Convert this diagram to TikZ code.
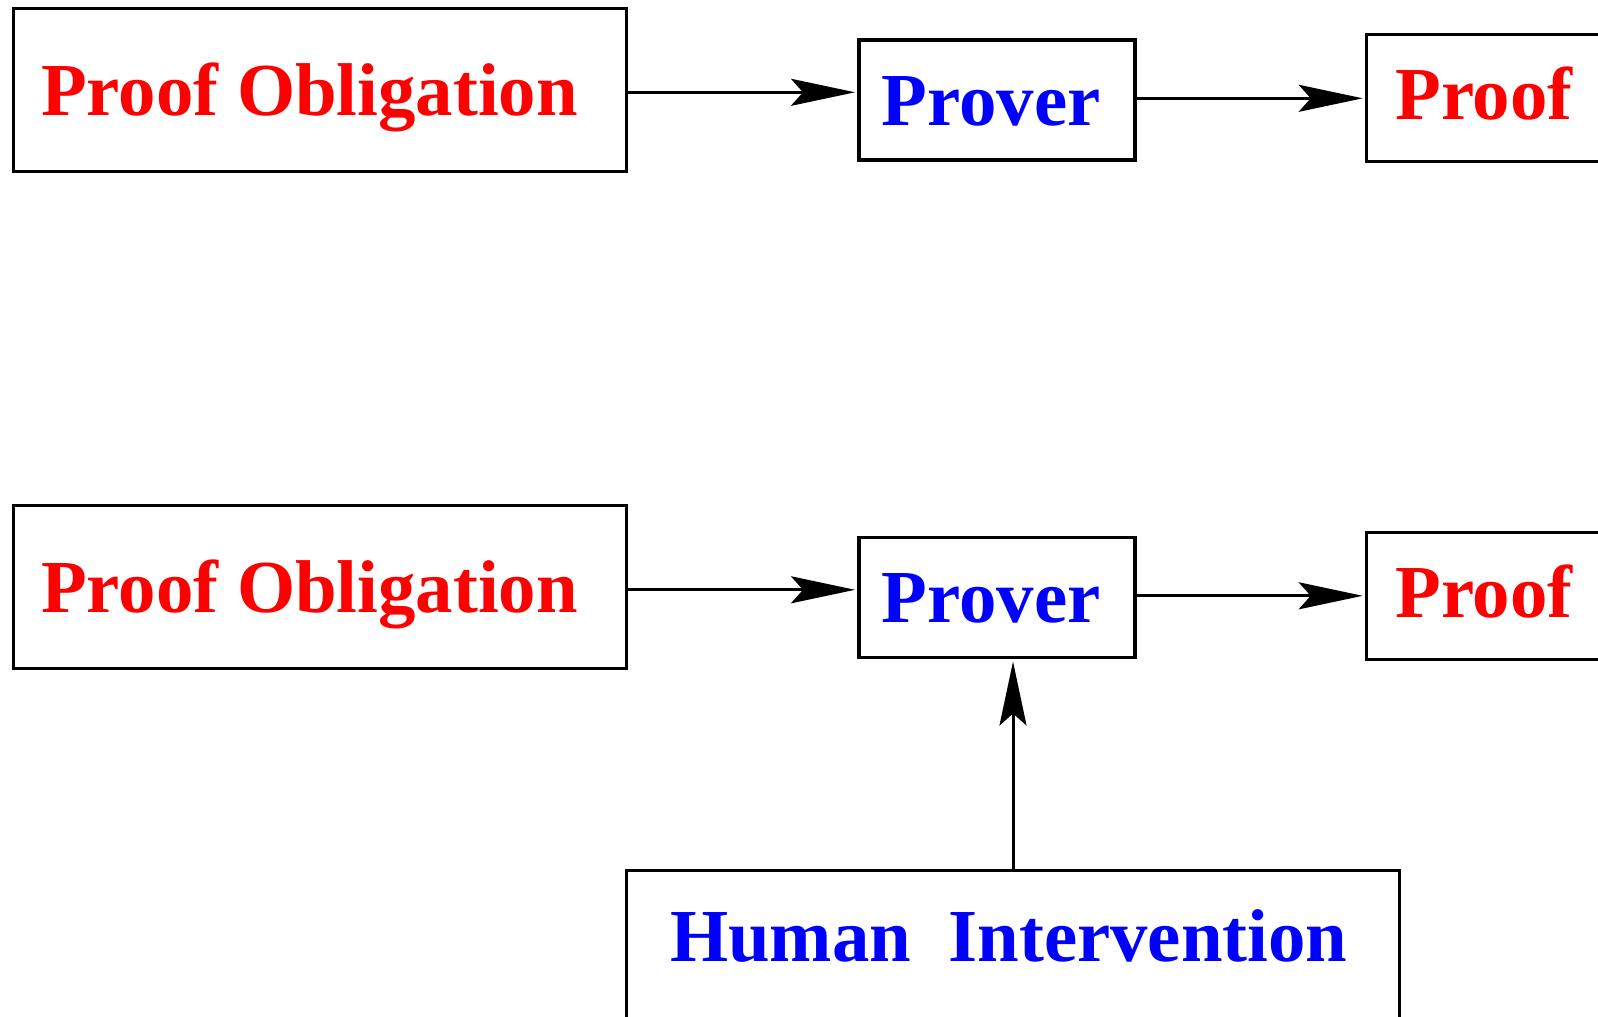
\documentclass[tikz,border=0pt]{standalone}
\usepackage{fontspec}
\setmainfont{Liberation Serif}
\usetikzlibrary{arrows.meta}
\begin{document}
\begin{tikzpicture}[x=0.5pt,y=-0.5pt,
  box/.style={draw=black, line width=1.6pt, rectangle, inner sep=0pt, outer sep=0pt},
  lbl/.style={anchor=base west, inner sep=0pt, font=\fontsize{37.4}{44}\selectfont\bfseries},
  arr/.style={line width=1.5pt, shorten >=2pt,
    -{Stealth[length=32pt, width=13.5pt, inset=6pt]}}]
\useasboundingbox (0,0) rectangle (1598,1016);
\clip (0,0) rectangle (1598,1016);

% automatic prover
\node[box, minimum width=306.8pt, minimum height=81.5pt] (po1) at (320,89.7) {};
\node[box, minimum width=138pt, minimum height=60pt] (pr1) at (997,100) {};
\node[box, minimum width=200pt, minimum height=63.5pt] (pf1) at (1566.7,98.3) {};
\node[lbl, text=red] (t-po1) at (40.8,115.2) {Proof Obligation};
\node[lbl, text=blue] (t-pr1) at (881.5,125.4) {Prover};
\node[lbl, text=red] (t-pf1) at (1395,119.5) {Proof};
\draw[arr] ([yshift=-1.3pt]po1.east) -- ([yshift=-1.3pt]po1.east -| pr1.west);
\draw[arr] (pr1.east |- pf1.west) -- (pf1.west);

% interactive prover
\node[box, minimum width=306.8pt, minimum height=81.5pt] (po2) at (320,587.2) {};
\node[box, minimum width=138pt, minimum height=60pt] (pr2) at (997,597.5) {};
\node[box, minimum width=200pt, minimum height=63.5pt] (pf2) at (1566.7,595.8) {};
\node[lbl, text=red] (t-po2) at (40.8,612.7) {Proof Obligation};
\node[lbl, text=blue] (t-pr2) at (881.5,622.9) {Prover};
\node[lbl, text=red] (t-pf2) at (1395,617) {Proof};
\draw[arr] ([yshift=-1.3pt]po2.east) -- ([yshift=-1.3pt]po2.east -| pr2.west);
\draw[arr] (pr2.east |- pf2.west) -- (pf2.west);

\node[box, minimum width=386.3pt, minimum height=120pt] (hi) at (1013,990.4) {};
\node[lbl, text=blue] (t-hi) at (669.6,961) {Human\ \ Intervention};
\draw[arr] (hi.north) -- (hi.north |- pr2.south);
\end{tikzpicture}
\end{document}
